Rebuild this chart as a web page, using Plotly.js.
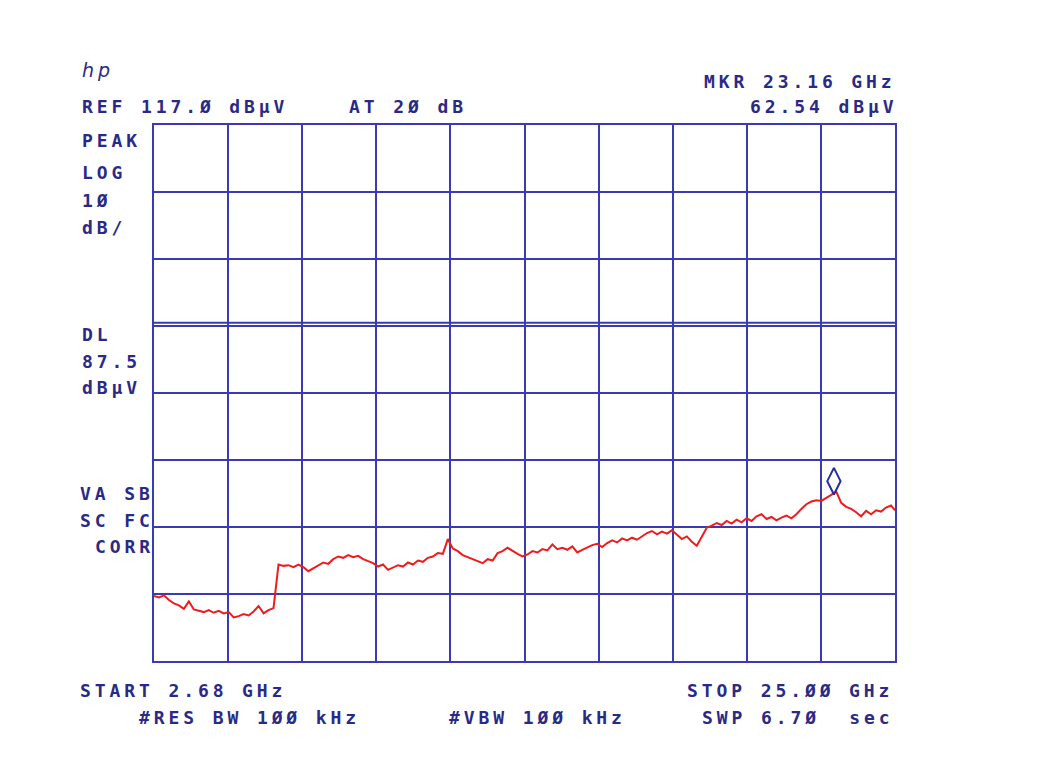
<!DOCTYPE html>
<html>
<head>
<meta charset="utf-8">
<script src="https://cdn.plot.ly/plotly-3.0.1.min.js"></script>
<style>
  html, body { margin: 0; padding: 0; background: #ffffff; }
  #chart { width: 1050px; height: 782px; }
  .annotation-text { letter-spacing: 3.9px; }
</style>
</head>
<body>
<div id="chart"></div>
<script>
// ---- Data ----
const freqGHz = [
  2.68,2.83,2.98,3.13,3.28,3.43,3.58,3.73,3.88,4.03,
  4.18,4.33,4.48,4.63,4.78,4.93,5.08,5.23,5.38,5.53,
  5.68,5.83,5.98,6.13,6.28,6.43,6.58,6.73,6.88,7.03,
  7.18,7.33,7.48,7.63,7.78,7.93,8.08,8.23,8.38,8.53,
  8.68,8.83,8.98,9.13,9.28,9.43,9.58,9.73,9.88,10.03,
  10.18,10.33,10.48,10.63,10.78,10.93,11.08,11.23,11.38,11.53,
  11.68,11.83,11.98,12.13,12.28,12.43,12.58,12.73,12.88,13.03,
  13.18,13.33,13.48,13.63,13.78,13.93,14.08,14.23,14.38,14.53,
  14.68,14.83,14.98,15.13,15.28,15.43,15.58,15.73,15.88,16.03,
  16.18,16.33,16.48,16.63,16.78,16.93,17.08,17.23,17.38,17.53,
  17.68,17.83,17.98,18.13,18.28,18.43,18.58,18.73,18.88,19.03,
  19.18,19.33,19.48,19.63,19.78,19.93,20.08,20.23,20.38,20.53,
  20.68,20.83,20.98,21.13,21.28,21.43,21.58,21.73,21.88,22.03,
  22.18,22.33,22.48,22.63,22.78,22.93,23.08,23.23,23.38,23.53,
  23.68,23.83,23.98,24.13,24.28,24.43,24.58,24.73,24.88,25.00
];
const leveldBuV = [
  46.7,46.5,46.8,46.1,45.6,45.3,44.8,45.9,44.7,44.5,
  44.3,44.6,44.2,44.5,44.1,44.3,43.5,43.7,44.0,43.8,
  44.4,45.2,44.1,44.6,44.9,51.4,51.2,51.3,51.0,51.4,
  51.0,50.4,50.8,51.3,51.7,51.5,52.2,52.6,52.4,52.8,
  52.5,52.7,52.2,51.9,51.6,51.1,51.4,50.6,50.9,51.3,
  51.1,51.7,51.4,52.0,51.8,52.4,52.6,53.1,53.0,55.2,
  53.8,53.4,52.8,52.5,52.3,51.9,51.6,52.2,52.0,53.1,
  53.4,53.9,53.4,53.0,52.6,52.9,53.4,53.2,53.7,53.5,
  54.4,53.7,53.9,53.6,54.1,53.2,53.6,54.0,54.3,54.5,
  54.0,54.6,55.0,54.7,55.3,55.0,55.4,55.1,55.6,56.1,
  56.4,55.9,56.3,56.0,56.5,55.8,55.2,55.6,54.8,54.2,
  55.6,56.9,57.2,57.6,57.3,57.9,57.5,58.1,57.7,58.3,
  57.9,58.6,58.9,58.2,58.5,58.0,58.4,58.7,58.3,58.9,
  59.7,60.4,60.8,61.0,60.9,61.3,61.8,62.3,60.6,60.0,
  59.7,59.2,58.6,59.4,58.9,59.5,59.3,59.9,60.2,59.5
];
const startGHz = 2.68;
const stopGHz = 25.00;
const refLevel = 117.0;
const dbPerDiv = 10;
const numYDiv = 8;
const numXDiv = 10;
const displayLine = 87.5;
const markerGHz = [23.16];
const markerLevel = [62.54];

const headerLabels = ["REF 117.\u00D8 dB\u00B5V", "AT 2\u00D8 dB", "MKR 23.16 GHz", "62.54 dB\u00B5V"];
const sideLabels = ["PEAK", "LOG", "1\u00D8", "dB/", "DL", "87.5", "dB\u00B5V", "VA SB", "SC FC", "CORR"];
const footerLabels = ["START 2.68 GHz", "#RES BW 1\u00D8\u00D8 kHz", "#VBW 1\u00D8\u00D8 kHz", "STOP 25.\u00D8\u00D8 GHz", "SWP 6.7\u00D8  sec"];

// ---- Styling / layout ----
const W = 1050, H = 782;
const plotL = 154, plotR = 895, plotT = 125, plotB = 661;
const gridColor = '#3a3ab4';
const textColor = '#2a2a86';
const traceColor = '#ee1c1c';
const fontFam = '"DejaVu Sans Mono", monospace';

function px2paperX(px) { return (px - plotL) / (plotR - plotL); }
function px2paperY(py) { return (plotB - py) / (plotB - plotT); }
function ann(text, px, py, extra) {
  return Object.assign({
    text: text, xref: 'paper', yref: 'paper',
    x: px2paperX(px), y: px2paperY(py),
    xanchor: 'left', yanchor: 'middle', showarrow: false,
    font: { family: fontFam, size: 18, color: textColor, weight: 'bold' }
  }, extra || {});
}

const annotations = [
  ann('<i>hp</i>', 80, 70, { font: { family: '"DejaVu Sans", sans-serif', size: 19, color: textColor } }),
  ann(headerLabels[0], 80, 106),
  ann(headerLabels[1], 347, 106),
  ann(headerLabels[2], 702, 81),
  ann(headerLabels[3], 748, 106),
  ann(sideLabels[0], 80, 140),
  ann(sideLabels[1], 80, 172),
  ann(sideLabels[2], 80, 200),
  ann(sideLabels[3], 80, 227),
  ann(sideLabels[4], 80, 334),
  ann(sideLabels[5], 80, 361),
  ann(sideLabels[6], 80, 387),
  ann(sideLabels[7], 78, 493),
  ann(sideLabels[8], 78, 520),
  ann(sideLabels[9], 93, 546),
  ann(footerLabels[0], 78, 690),
  ann(footerLabels[1], 137, 717),
  ann(footerLabels[2], 447, 717),
  ann(footerLabels[3], 685, 690),
  ann(footerLabels[4], 700, 717)
];

const traces = [
  {
    x: freqGHz, y: leveldBuV, type: 'scatter', mode: 'lines',
    line: { color: traceColor, width: 2 }, hoverinfo: 'skip', showlegend: false
  },
  {
    x: markerGHz, y: markerLevel.map(v => v + 1.3), type: 'scatter', mode: 'markers',
    marker: { symbol: 'diamond-tall-open', size: 19, color: '#2a2aa0', line: { width: 2, color: '#2a2aa0' } },
    hoverinfo: 'skip', showlegend: false
  }
];

const layout = {
  width: W, height: H,
  margin: { l: plotL, r: W - plotR, t: plotT, b: H - plotB, pad: 0 },
  paper_bgcolor: '#ffffff', plot_bgcolor: '#ffffff',
  showlegend: false,
  xaxis: {
    range: [startGHz, stopGHz], tick0: startGHz, dtick: (stopGHz - startGHz) / numXDiv,
    showticklabels: false, ticks: '', showgrid: true, gridcolor: gridColor, gridwidth: 2,
    zeroline: false, showline: true, linecolor: gridColor, linewidth: 2, mirror: true
  },
  yaxis: {
    range: [refLevel - dbPerDiv * numYDiv, refLevel], tick0: refLevel, dtick: dbPerDiv,
    showticklabels: false, ticks: '', showgrid: true, gridcolor: gridColor, gridwidth: 2,
    zeroline: false, showline: true, linecolor: gridColor, linewidth: 2, mirror: true
  },
  shapes: [
    { type: 'line', xref: 'paper', yref: 'y', x0: 0, x1: 1, y0: displayLine, y1: displayLine,
      line: { color: gridColor, width: 2 } }
  ],
  annotations: annotations
};

Plotly.newPlot('chart', traces, layout, { displayModeBar: false, staticPlot: true });
</script>
</body>
</html>
